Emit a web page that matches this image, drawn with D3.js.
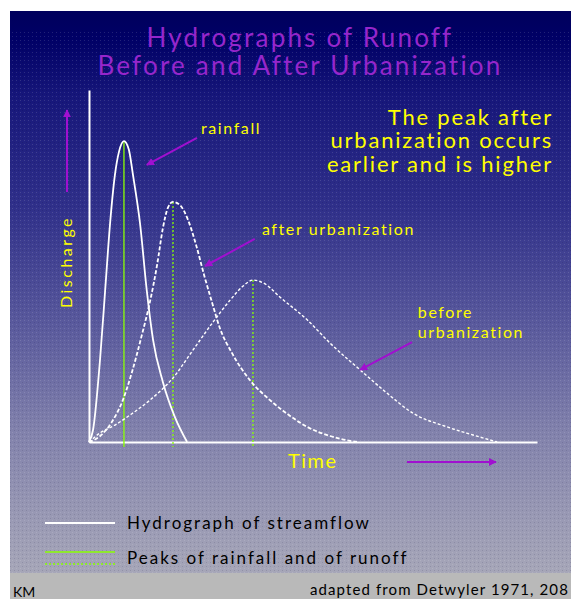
<!DOCTYPE html>
<html>
<head>
<meta charset="utf-8">
<script src="https://cdn.jsdelivr.net/npm/d3@7"></script>
<style>
  body { margin: 0; background: #fff; }
  svg { display: block; }
  text { font-family: Lato, "Open Sans", sans-serif; }
</style>
</head>
<body>
<div id="chart"></div>
<script>
// DATA (time and discharge, both in relative units 0-100)
const rainfallTime = [0, 0.9, 2.5, 3.6, 4.7, 5.8, 6.7, 7.8, 8.9, 9.8, 11.4, 12.9, 14.3, 16.5, 19.2, 21.9];
const rainfallQ    = [0, 3.4, 24, 43, 62, 76, 82.5, 85.5, 83, 76, 62, 43, 29, 17, 7, 0];

const afterTime = [0, 2.5, 5.1, 7.4, 9.6, 11.8, 13.6, 15.2, 16.5, 17.6, 18.75, 20.3, 22.1, 23.9, 25.7, 27.5, 29.2, 31.9, 35.9, 40.4, 44.9, 48.7, 53.8, 59.8];
const afterQ    = [0, 1.7, 5.7, 11.4, 19.9, 30.4, 39.8, 50.3, 60.8, 66.5, 68.2, 67.3, 63.1, 56, 47.4, 39.5, 32.4, 25.3, 17.6, 11.9, 7.4, 4.3, 1.7, 0];

const beforeTime = [0, 2.5, 5.8, 9.2, 13.6, 18.75, 23.2, 27.7, 31.5, 34.4, 36.6, 39.3, 42.6, 48.7, 53.8, 60.5, 66.5, 72.3, 79.9, 85.7, 91.1];
const beforeQ    = [0, 2.6, 4.8, 7.7, 11.9, 18.2, 26.1, 34.1, 40.3, 44.3, 46, 44.9, 41.2, 34.7, 28.1, 20.5, 13.9, 8.2, 4.3, 2, 0];

const titleLines = ["Hydrographs of Runoff", "Before and After Urbanization"];
const noteLines = ["The peak after", "urbanization occurs", "earlier and is higher"];
const legendLabels = ["Hydrograph of streamflow", "Peaks of rainfall and of runoff"];

// CONSTANTS
const W = 571, H = 599;
const margin = { top: 90, right: 34, bottom: 157, left: 89 };
const innerWidth = W - margin.left - margin.right;
const innerHeight = H - margin.top - margin.bottom;
const purple = "#a010d0", yellow = "#ffff00", green = "#88ff00";

const svg = d3.select("#chart").append("svg")
  .attr("width", W).attr("height", H);

const defs = svg.append("defs");
const grad = defs.append("linearGradient")
  .attr("id", "bg").attr("x1", 0).attr("y1", 0).attr("x2", 0).attr("y2", 1);
[[0, "#00005c"], [0.05, "#000066"], [0.15, "#16167a"], [0.35, "#30308a"],
 [0.55, "#58589c"], [0.75, "#8282ac"], [0.9, "#9999b4"], [1, "#a6a6b8"]]
  .forEach(s => grad.append("stop").attr("offset", s[0]).attr("stop-color", s[1]));

const pat = defs.append("pattern")
  .attr("id", "dots").attr("width", 4).attr("height", 4)
  .attr("patternUnits", "userSpaceOnUse");
pat.append("rect").attr("x", 0).attr("y", 0).attr("width", 1).attr("height", 1)
  .attr("fill", "rgba(255,255,255,0.13)");
pat.append("rect").attr("x", 2).attr("y", 2).attr("width", 1).attr("height", 1)
  .attr("fill", "rgba(0,0,40,0.12)");

defs.append("marker")
  .attr("id", "head").attr("viewBox", "0 0 10 10")
  .attr("refX", 9).attr("refY", 5)
  .attr("markerWidth", 4).attr("markerHeight", 4)
  .attr("orient", "auto")
  .append("path").attr("d", "M0,0L10,5L0,10z").attr("fill", purple);

// background
svg.append("rect").attr("x", 10).attr("y", 11).attr("width", W - 10).attr("height", 562)
  .attr("fill", "url(#bg)");
svg.append("rect").attr("x", 10).attr("y", 30).attr("width", W - 10).attr("height", 543)
  .attr("fill", "url(#dots)");
svg.append("rect").attr("x", 10).attr("y", 573).attr("width", W - 10).attr("height", 26)
  .attr("fill", "#b9b9b9");

// title
svg.append("g").selectAll("text").data(titleLines).enter().append("text")
  .attr("x", 300).attr("y", (d, i) => 47 + i * 28)
  .attr("text-anchor", "middle")
  .attr("font-size", 26).attr("letter-spacing", 2.2)
  .attr("fill", "#9626cc")
  .text(d => d);

const g = svg.append("g").attr("transform", `translate(${margin.left},${margin.top})`);

const x = d3.scaleLinear().domain([0, 100]).range([0, innerWidth]);
const y = d3.scaleLinear().domain([0, 100]).range([innerHeight, 0]);

// axes
const xAxisG = g.append("g").attr("class", "x-axis")
  .attr("transform", `translate(0, ${innerHeight})`)
  .call(d3.axisBottom(x).ticks(0).tickSizeOuter(0));
const yAxisG = g.append("g").attr("class", "y-axis")
  .call(d3.axisLeft(y).ticks(0).tickSizeOuter(0));
g.selectAll(".domain").attr("stroke", "#fff").attr("stroke-width", 2);

const series = [
  { name: "rainfall", t: rainfallTime, q: rainfallQ, dash: null, width: 1.8, peakDash: null },
  { name: "after", t: afterTime, q: afterQ, dash: "4,2", width: 1.8, peakDash: "2,2" },
  { name: "before", t: beforeTime, q: beforeQ, dash: "3,2", width: 1.4, peakDash: "2,2" }
];
series.forEach(s => { s.points = s.t.map((t, i) => [t, s.q[i]]); });

const line = d3.line().x(d => x(d[0])).y(d => y(d[1])).curve(d3.curveMonotoneX);

// peak lines
g.selectAll(".peak").data(series).enter().append("line")
  .attr("class", "peak")
  .attr("x1", d => x(d3.greatest(d.points, p => p[1])[0]))
  .attr("x2", d => x(d3.greatest(d.points, p => p[1])[0]))
  .attr("y1", d => y(d3.max(d.q)))
  .attr("y2", innerHeight + 5)
  .attr("stroke", green).attr("stroke-width", 1.3)
  .attr("stroke-dasharray", d => d.peakDash);

g.selectAll(".curve").data(series).enter().append("path")
  .attr("class", "curve")
  .attr("d", d => line(d.points))
  .attr("fill", "none").attr("stroke", "#fff")
  .attr("stroke-width", d => d.width)
  .attr("stroke-dasharray", d => d.dash);

// annotations (in data coordinates)
const arrows = [
  { from: [24.1, 86.4], to: [12.9, 78.7] },
  { from: [37, 57.7], to: [25.9, 50] },
  { from: [72.1, 28.4], to: [60.5, 20.5] }
];
g.selectAll(".arrow").data(arrows).enter().append("line")
  .attr("class", "arrow")
  .attr("x1", d => x(d.from[0])).attr("y1", d => y(d.from[1]))
  .attr("x2", d => x(d.to[0])).attr("y2", d => y(d.to[1]))
  .attr("stroke", purple).attr("stroke-width", 2)
  .attr("marker-end", "url(#head)");

const labels = [
  { text: "rainfall", at: [25, 87.5] },
  { text: "after urbanization", at: [38.6, 58.8] },
  { text: "before", at: [73.4, 35.2] },
  { text: "urbanization", at: [73.4, 29.5] }
];
g.selectAll(".label").data(labels).enter().append("text")
  .attr("class", "label")
  .attr("x", d => x(d.at[0])).attr("y", d => y(d.at[1]))
  .attr("font-size", 16).attr("letter-spacing", 1.6)
  .attr("fill", yellow)
  .text(d => d.text);

svg.append("g").selectAll("text").data(noteLines).enter().append("text")
  .attr("x", 553).attr("y", (d, i) => [125, 148, 172][i])
  .attr("text-anchor", "end")
  .attr("font-size", 22).attr("letter-spacing", 1.8)
  .attr("fill", yellow)
  .text(d => d);

// axis titles with arrows
svg.append("line")
  .attr("x1", 67).attr("y1", 192).attr("x2", 67).attr("y2", 110)
  .attr("stroke", purple).attr("stroke-width", 2)
  .attr("marker-end", "url(#head)");
svg.append("text")
  .attr("transform", "translate(72,262) rotate(-90)")
  .attr("text-anchor", "middle")
  .attr("font-size", 16).attr("letter-spacing", 2.5)
  .attr("fill", yellow)
  .text("Discharge");

svg.append("text")
  .attr("x", 288).attr("y", 468)
  .attr("font-size", 20).attr("letter-spacing", 1.5)
  .attr("fill", yellow)
  .text("Time");
svg.append("line")
  .attr("x1", 407).attr("y1", 462).attr("x2", 496).attr("y2", 462)
  .attr("stroke", purple).attr("stroke-width", 2)
  .attr("marker-end", "url(#head)");

// legend
const legend = svg.append("g");
legend.append("line").attr("x1", 45).attr("x2", 115).attr("y1", 523).attr("y2", 523)
  .attr("stroke", "#fff").attr("stroke-width", 2);
legend.append("line").attr("x1", 45).attr("x2", 115).attr("y1", 552).attr("y2", 552)
  .attr("stroke", green).attr("stroke-width", 1.5);
legend.append("line").attr("x1", 45).attr("x2", 115).attr("y1", 564).attr("y2", 564)
  .attr("stroke", green).attr("stroke-width", 1.5).attr("stroke-dasharray", "2,2");
legend.selectAll("text").data(legendLabels).enter().append("text")
  .attr("x", 127).attr("y", (d, i) => [529, 564][i])
  .attr("font-size", 17).attr("letter-spacing", 2)
  .attr("fill", "#000")
  .text(d => d);

// footer
svg.append("text").attr("x", 13).attr("y", 597)
  .attr("font-size", 14).attr("fill", "#000").text("KM");
svg.append("text").attr("x", 310).attr("y", 595)
  .attr("font-size", 15).attr("letter-spacing", 1.1).attr("fill", "#000")
  .text("adapted from Detwyler 1971, 208");
</script>
</body>
</html>
